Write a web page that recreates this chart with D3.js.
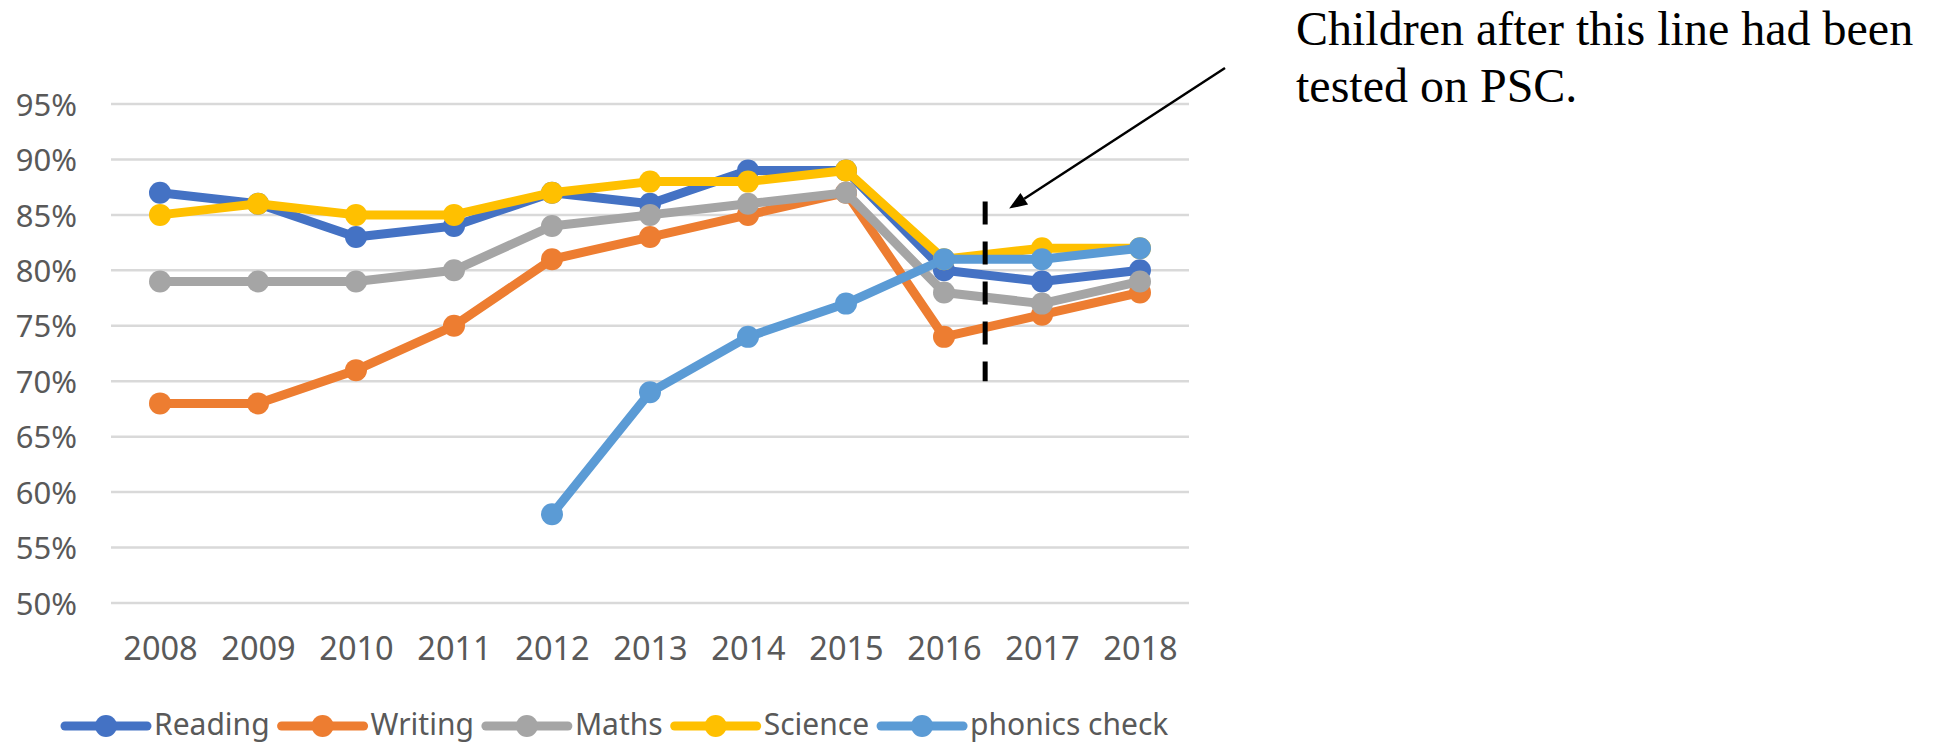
<!DOCTYPE html>
<html>
<head>
    <title>Attainment vs phonics check</title>
    <script src="https://d3js.org/d3.v7.min.js"></script>
    <style>
        body { margin: 0; background: #fff; }
        .tick-label { font-family: "Noto Sans", sans-serif; font-size: 31px; fill: #595959; }
        .x-label { font-size: 32.5px; }
        .legend-label { font-family: "Noto Sans", sans-serif; font-size: 30px; fill: #595959; }
        .note { font-family: "Liberation Serif", "Times New Roman", serif; font-size: 48px; fill: #000; }
    </style>
</head>
<body>
    <div id="chart"></div>
    <script>
	const years = ['2008', '2009', '2010', '2011', '2012', '2013', '2014', '2015', '2016', '2017', '2018'];
	const reading = [87, 86, 83, 84, 87, 86, 89, 89, 80, 79, 80];
	const writing = [68, 68, 71, 75, 81, 83, 85, 87, 74, 76, 78];
	const maths = [79, 79, 79, 80, 84, 85, 86, 87, 78, 77, 79];
	const science = [85, 86, 85, 85, 87, 88, 88, 89, 81, 82, 82];
	const phonics = [null, null, null, null, 58, 69, 74, 77, 81, 81, 82];
	const seriesNames = ['Reading', 'Writing', 'Maths', 'Science', 'phonics check'];
	const seriesColors = ['#4472C4', '#ED7D31', '#A5A5A5', '#FFC000', '#5B9BD5'];
	const yTicks = [50, 55, 60, 65, 70, 75, 80, 85, 90, 95];
	// dashed divider: just after 2016, from 70% up to ~86%
	const divider = {year: '2016', offset: 0.42, from: 70, to: 86.2};
	const noteLines = ['Children after this line had been', 'tested on PSC.'];

	const width = 1939, height = 745;
	const plot = {left: 111, right: 1189, top: 104, bottom: 603};

	const svg = d3.select("#chart").append("svg")
	    .attr("width", width)
	    .attr("height", height);

	const x = d3.scalePoint()
	    .domain(years)
	    .range([plot.left, plot.right])
	    .padding(0.5);

	const y = d3.scaleLinear()
	    .domain([50, 95])
	    .range([plot.bottom, plot.top]);

	// gridlines
	svg.append("g")
	    .selectAll("line")
	    .data(yTicks)
	    .enter().append("line")
	        .attr("x1", plot.left)
	        .attr("x2", plot.right)
	        .attr("y1", d => y(d))
	        .attr("y2", d => y(d))
	        .attr("stroke", "#D9D9D9")
	        .attr("stroke-width", 2.5);

	// y axis labels
	const yAxis = d3.axisLeft(y)
	    .tickValues(yTicks)
	    .tickFormat(d => d + "%")
	    .tickSize(0)
	    .tickPadding(0);

	svg.append("g")
	    .attr("transform", "translate(77,0)")
	    .call(yAxis)
	    .call(g => g.select(".domain").remove())
	    .selectAll("text")
	        .attr("class", "tick-label")
	        .attr("font-family", null)
	        .attr("font-size", null)
	        .attr("fill", null)
	        .attr("dy", "0.36em");

	// x axis labels
	const xAxis = d3.axisBottom(x)
	    .tickSize(0)
	    .tickPadding(0);

	svg.append("g")
	    .attr("transform", "translate(0,648)")
	    .call(xAxis)
	    .call(g => g.select(".domain").remove())
	    .selectAll("text")
	        .attr("class", "tick-label x-label")
	        .attr("font-family", null)
	        .attr("font-size", null)
	        .attr("fill", null)
	        .attr("dy", "0.36em");

	const allSeries = [reading, writing, maths, science, phonics].map((vals, i) => ({
	    name: seriesNames[i],
	    color: seriesColors[i],
	    points: years.map((yr, j) => ({year: yr, value: vals[j]})).filter(p => p.value != null)
	}));

	const line = d3.line()
	    .x(d => x(d.year))
	    .y(d => y(d.value));

	const groups = svg.append("g")
	    .selectAll("g")
	    .data(allSeries)
	    .enter().append("g");

	groups.append("path")
	    .attr("d", d => line(d.points))
	    .attr("fill", "none")
	    .attr("stroke", d => d.color)
	    .attr("stroke-width", 9)
	    .attr("stroke-linejoin", "round")
	    .attr("stroke-linecap", "round");

	groups.selectAll("circle")
	    .data(d => d.points.map(p => ({...p, color: d.color})))
	    .enter().append("circle")
	        .attr("cx", d => x(d.year))
	        .attr("cy", d => y(d.value))
	        .attr("r", 11)
	        .attr("fill", d => d.color);

	// dashed divider
	const divX = x(divider.year) + divider.offset * x.step();
	svg.append("line")
	    .attr("x1", divX).attr("x2", divX)
	    .attr("y1", y(divider.to)).attr("y2", y(divider.from))
	    .attr("stroke", "#000")
	    .attr("stroke-width", 5)
	    .attr("stroke-dasharray", "23,17");

	// annotation arrow
	const arrowStart = [1225, 68];
	const arrowTip = [divX + 24, y(divider.to) + 7];
	const ang = Math.atan2(arrowTip[1] - arrowStart[1], arrowTip[0] - arrowStart[0]);
	const headLen = 18, headW = 7;
	const base = [arrowTip[0] - headLen * Math.cos(ang), arrowTip[1] - headLen * Math.sin(ang)];
	svg.append("line")
	    .attr("x1", arrowStart[0]).attr("y1", arrowStart[1])
	    .attr("x2", base[0]).attr("y2", base[1])
	    .attr("stroke", "#000")
	    .attr("stroke-width", 2.5);
	svg.append("polygon")
	    .attr("points", [
	        arrowTip,
	        [base[0] + headW * Math.sin(ang), base[1] - headW * Math.cos(ang)],
	        [base[0] - headW * Math.sin(ang), base[1] + headW * Math.cos(ang)]
	    ].map(p => p.join(",")).join(" "))
	    .attr("fill", "#000");

	svg.append("text")
	    .attr("class", "note")
	    .selectAll("tspan")
	    .data(noteLines)
	    .enter().append("tspan")
	        .attr("x", 1296)
	        .attr("y", (d, i) => 45 + i * 57)
	        .text(d => d);

	// legend (kept a bit higher so descenders stay inside the page)
	const legend = svg.append("g").attr("transform", "translate(0,726)");
	let lx = 65;
	allSeries.forEach(s => {
	    const item = legend.append("g").attr("transform", `translate(${lx},0)`);
	    item.append("line")
	        .attr("x1", 0).attr("x2", 82)
	        .attr("stroke", s.color)
	        .attr("stroke-width", 9)
	        .attr("stroke-linecap", "round");
	    item.append("circle")
	        .attr("cx", 41)
	        .attr("r", 11)
	        .attr("fill", s.color);
	    const t = item.append("text")
	        .attr("class", "legend-label")
	        .attr("x", 89)
	        .attr("dy", "0.3em")
	        .text(s.name);
	    lx += 89 + t.node().getComputedTextLength() + 12;
	});
	</script>
</body>
</html>
